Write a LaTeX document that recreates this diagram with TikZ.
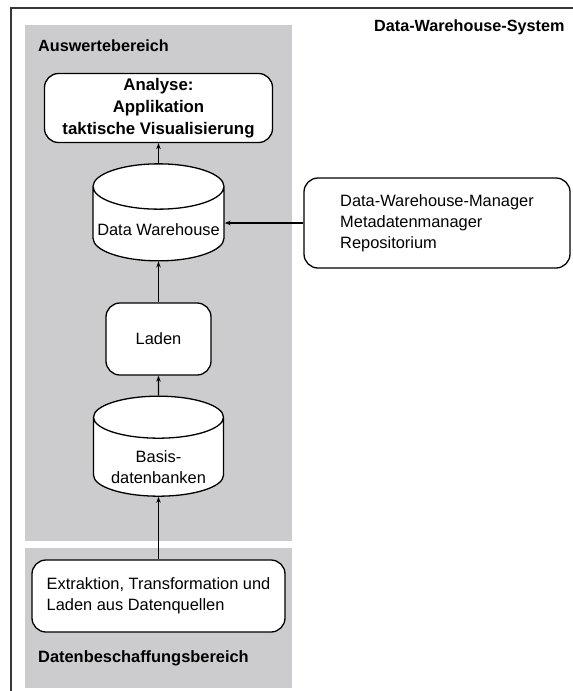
\documentclass[tikz,border=0pt]{standalone}
\usepackage{fontspec}
\setmainfont{Liberation Sans}
\usetikzlibrary{shapes.geometric,arrows.meta}
\definecolor{areagray}{RGB}{204,204,206}
\definecolor{framegray}{RGB}{55,55,55}
\begin{document}
\begin{tikzpicture}[x=1pt,y=-1pt,
  font=\fontsize{16.4}{21}\selectfont,
  box/.style={draw,line width=1.3pt,rounded corners=14pt,fill=white,align=center,inner sep=0pt},
  db/.style={cylinder,shape border rotate=90,aspect=0.37,draw,line width=1.3pt,fill=white,align=center,inner sep=0pt,minimum width=131pt,minimum height=97pt},
  flow/.style={-{Stealth[length=6pt,width=4.5pt]},line width=1.3pt},
  area/.style={font=\fontsize{16.2}{21}\selectfont\bfseries,anchor=west,inner sep=0pt}]
\useasboundingbox (0,0) rectangle (573,691);
\fill[areagray] (25,25) rectangle (292,541);
\fill[areagray] (25,548) rectangle (292,688);
\draw[framegray,line width=2.2pt] (11,691) -- (11,8) -- (573,8);
\node[area] (Auswertebereich) at (38,46) {Auswertebereich};
\node[area,font=\fontsize{16.4}{21}\selectfont\bfseries] (Datenbeschaffungsbereich) at (38,658) {Datenbeschaffungsbereich};
\node[area] (Data_Warehouse_System) at (374,27) {Data-Warehouse-System};
\node[box,minimum width=228pt,minimum height=69pt,font=\fontsize{16.8}{22}\selectfont\bfseries] (Analyse) at (158.5,108) {Analyse:\\Applikation\\taktische Visualisierung};
\node[db] (Data_Warehouse) at (158.5,224) {\raisebox{-11pt}[0pt][0pt]{Data Warehouse}};
\node[box,align=left,minimum width=266pt,minimum height=90pt] (DW_Manager) at (437,223) {Data-Warehouse-Manager\\Metadatenmanager\\Repositorium};
\node[box,minimum width=105pt,minimum height=72pt] (Laden) at (158.5,339) {Laden};
\node[db,aspect=0.35,minimum width=130pt,minimum height=100pt] (Basisdatenbanken) at (158.5,457) {\raisebox{-14pt}[0pt][0pt]{\parbox{120pt}{\centering Basis-\\datenbanken}}};
\node[box,align=left,minimum width=253pt,minimum height=72pt] (Extraktion) at (158.5,596) {Extraktion, Transformation und\\Laden aus Datenquellen};
\draw[flow] (Data_Warehouse.north) -- (Analyse.south);
\draw[flow] (DW_Manager.west) -- (DW_Manager.west -| Data_Warehouse.east);
\draw[flow] (Laden.north) -- (Data_Warehouse.south);
\draw[flow] (Basisdatenbanken.north) -- (Laden.south);
\draw[flow] (Extraktion.north) -- (Basisdatenbanken.south);
\end{tikzpicture}
\end{document}
